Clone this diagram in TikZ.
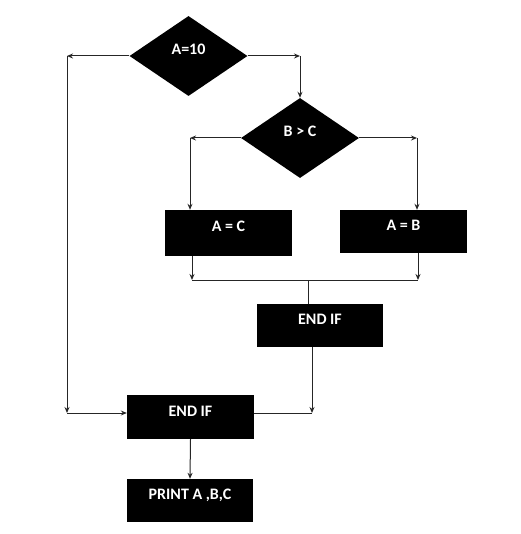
\documentclass[tikz,border=0pt]{standalone}
\usepackage{fontspec}
\setmainfont{Carlito}
\usetikzlibrary{shapes.geometric,arrows.meta}

\begin{document}
\begin{tikzpicture}[x=1pt,y=-1pt,>={Stealth[length=6pt,width=5pt]}]
			\tikzstyle{every node}=[fill=black,text=white,inner sep=0pt,
			font=\bfseries\fontsize{16}{19}\selectfont,text height=10pt,text depth=12pt]
			\tikzstyle{decision}=[diamond,aspect=1.48,minimum width=118pt,minimum height=80pt]
			\tikzstyle{block}=[rectangle,minimum width=127pt,minimum height=44pt]
			\tikzstyle{line}=[draw=black!85,line width=1pt]
			\useasboundingbox (0,0) rectangle (520,534);
			% decisions
			\node[decision] (aten) at (188.5,56) {A=10};
			\node[decision] (bgc) at (300,138) {B > C};
			% blocks
			\node[block,minimum height=46pt] (aeqc) at (228.5,233) {A = C};
			\node[block,minimum height=43pt] (aeqb) at (403.5,231.5) {A = B};
			\node[block,minimum width=126pt,minimum height=43pt] (endifin) at (320,325.5) {END IF};
			\node[block] (endifout) at (190.5,417) {END IF};
			\node[block,minimum width=126pt,minimum height=43pt] (print) at (190,500.5) {PRINT A ,B,C};
			% bends
			\coordinate (lefttop) at (67,56);
			\coordinate (leftbot) at (67,413);
			\coordinate (righttop) at (300,56);
			\coordinate (bcleft) at (190,138);
			\coordinate (bcright) at (417,138);
			\coordinate (joinl) at (192,280);
			\coordinate (joinr) at (418,280);
			\coordinate (joinm) at (308,280);
			\coordinate (backr) at (312,413);
			% connectors
			\draw[line,->] (aten.west) -- (lefttop);
			\draw[line,->] (lefttop) -- (leftbot);
			\draw[line,->] (leftbot) -- (leftbot -| endifout.west);
			\draw[line,->] (aten.east) -- (righttop);
			\draw[line,->] (righttop) -- (bgc.north);
			\draw[line,->] (bgc.west) -- (bcleft);
			\draw[line,->] (bcleft) -- (bcleft |- aeqc.north);
			\draw[line,->] (bgc.east) -- (bcright);
			\draw[line,->] (bcright) -- (bcright |- aeqb.north);
			\draw[line,->] (joinl |- aeqc.south) -- (joinl);
			\draw[line,->] (joinr |- aeqb.south) -- (joinr);
			\draw[line] (joinl) -- (joinr);
			\draw[line] (joinm) -- (joinm |- endifin.north);
			\draw[line,->] (backr |- endifin.south) -- (backr);
			\draw[line] (backr) -- (backr -| endifout.east);
			\draw[line,->] (endifout.south) -- (print.north);
\end{tikzpicture}
\end{document}
